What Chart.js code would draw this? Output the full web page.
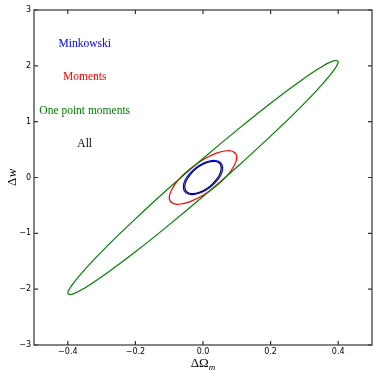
<!DOCTYPE html>
<html>
<head>
<meta charset="utf-8">
<script src="https://cdn.jsdelivr.net/npm/chart.js@4.4.1/dist/chart.umd.min.js"></script>
<style>
  html, body { margin: 0; padding: 0; background: #fff; }
  #wrap { width: 373px; height: 372px; }
</style>
</head>
<body>
<div id="wrap"><canvas id="c" width="373" height="372"></canvas></div>
<script>
// Axis ticks
const xTicks = [-0.4, -0.2, 0.0, 0.2, 0.4];
const yTicks = [-3, -2, -1, 0, 1, 2, 3];

// Confidence contours (Delta Omega_m, Delta w), traced around each ellipse
const onePointX = [0.400, 0.386, 0.346, 0.283, 0.200, 0.104, 0.000, -0.104, -0.200, -0.283, -0.346, -0.386,
                   -0.400, -0.386, -0.346, -0.283, -0.200, -0.104, 0.000, 0.104, 0.200, 0.283, 0.346, 0.386];
const onePointY = [2.072, 2.090, 1.965, 1.706, 1.331, 0.866, 0.341, -0.207, -0.741, -1.224, -1.624, -1.913,
                   -2.072, -2.090, -1.965, -1.706, -1.331, -0.866, -0.341, 0.207, 0.741, 1.224, 1.624, 1.913];

const momentsX = [0.100, 0.092, 0.071, 0.038, 0.000, -0.038, -0.071, -0.092,
                  -0.100, -0.092, -0.071, -0.038, 0.000, 0.038, 0.071, 0.092];
const momentsY = [0.360, 0.454, 0.479, 0.431, 0.318, 0.156, -0.030, -0.211,
                  -0.360, -0.454, -0.479, -0.431, -0.318, -0.156, 0.030, 0.211];

const minkowskiX = [0.058, 0.054, 0.041, 0.022, 0.000, -0.022, -0.041, -0.054,
                    -0.058, -0.054, -0.041, -0.022, 0.000, 0.022, 0.041, 0.054];
const minkowskiY = [0.168, 0.253, 0.299, 0.300, 0.255, 0.171, 0.061, -0.058,
                    -0.168, -0.253, -0.299, -0.300, -0.255, -0.171, -0.061, 0.058];

const allX = [0.054, 0.050, 0.038, 0.021, 0.000, -0.021, -0.038, -0.050,
              -0.054, -0.050, -0.038, -0.021, 0.000, 0.021, 0.038, 0.050];
const allY = [0.168, 0.246, 0.286, 0.283, 0.236, 0.154, 0.048, -0.065,
              -0.168, -0.246, -0.286, -0.283, -0.236, -0.154, -0.048, 0.065];

// In-plot labels
const seriesNames = ['Minkowski', 'Moments', 'One point moments', 'All'];
const seriesColors = ['#0000ff', '#ff0000', '#008000', '#000000'];
const nameX = -0.35;
const nameY = [2.4, 1.8, 1.2, 0.6];

function pts(xs, ys) { return xs.map((x, i) => ({ x: x, y: ys[i] })); }
function fmt(v, d) { return (d ? v.toFixed(d) : String(v)).replace('-', '\u2212'); }

const contour = (data, color) => ({
  data: data, borderColor: color, borderWidth: 1.2, showLine: true,
  pointRadius: 0, tension: 0.4, fill: false
});

// Close each contour into a smooth loop
const closeLoops = {
  id: 'closeLoops',
  afterDatasetsUpdate(chart) {
    chart.data.datasets.forEach((ds, i) => {
      const line = chart.getDatasetMeta(i).dataset;
      if (!line) return;
      line._loop = true;
      line._fullLoop = true;
      line._pointsUpdated = false;
      delete line._segments;
      delete line._path;
    });
  }
};

// Frame, inward ticks, text labels and axis titles
const decor = {
  id: 'decor',
  afterDraw(chart) {
    const { ctx, chartArea: a, scales: { x, y } } = chart;
    ctx.save();
    ctx.strokeStyle = '#333';
    ctx.lineWidth = 1.2;
    ctx.strokeRect(a.left, a.top, a.right - a.left, a.bottom - a.top);
    ctx.beginPath();
    const tl = 4;
    xTicks.forEach(v => {
      const px = x.getPixelForValue(v);
      ctx.moveTo(px, a.bottom); ctx.lineTo(px, a.bottom - tl);
      ctx.moveTo(px, a.top); ctx.lineTo(px, a.top + tl);
    });
    yTicks.forEach(v => {
      const py = y.getPixelForValue(v);
      ctx.moveTo(a.left, py); ctx.lineTo(a.left + tl, py);
      ctx.moveTo(a.right, py); ctx.lineTo(a.right - tl, py);
    });
    ctx.stroke();

    ctx.font = '11.5px "Liberation Serif", serif';
    ctx.textAlign = 'center';
    ctx.textBaseline = 'middle';
    seriesNames.forEach((n, i) => {
      ctx.fillStyle = seriesColors[i];
      ctx.fillText(n, x.getPixelForValue(nameX), y.getPixelForValue(nameY[i]));
    });

    // x title: ΔΩ with subscript m
    ctx.fillStyle = '#000';
    ctx.textBaseline = 'alphabetic';
    ctx.textAlign = 'left';
    const main = '\u0394\u03a9';
    ctx.font = '13px "Liberation Serif", serif';
    const w1 = ctx.measureText(main).width;
    ctx.font = 'italic 9px "Liberation Serif", serif';
    const w2 = ctx.measureText('m').width;
    const cx = (a.left + a.right) / 2;
    const x0 = cx - (w1 + w2) / 2;
    ctx.font = '13px "Liberation Serif", serif';
    ctx.fillText(main, x0, 367);
    ctx.font = 'italic 9px "Liberation Serif", serif';
    ctx.fillText('m', x0 + w1, 370);

    // y title: Δw
    ctx.save();
    ctx.translate(15.5, (a.top + a.bottom) / 2);
    ctx.rotate(-Math.PI / 2);
    ctx.font = '13px "Liberation Serif", serif';
    const d1 = ctx.measureText('\u0394').width;
    ctx.font = 'italic 13px "Liberation Serif", serif';
    const d2 = ctx.measureText('w').width;
    const s0 = -(d1 + d2) / 2;
    ctx.font = '13px "Liberation Serif", serif';
    ctx.fillText('\u0394', s0, 0);
    ctx.font = 'italic 13px "Liberation Serif", serif';
    ctx.fillText('w', s0 + d1 + 0.5, 0);
    ctx.restore();
    ctx.restore();
  }
};

new Chart(document.getElementById('c'), {
  type: 'scatter',
  data: {
    datasets: [
      contour(pts(onePointX, onePointY), '#008000'),
      contour(pts(momentsX, momentsY), '#ff0000'),
      contour(pts(minkowskiX, minkowskiY), '#0000ff'),
      contour(pts(allX, allY), '#000000')
    ]
  },
  options: {
    responsive: false,
    animation: false,
    layout: { padding: { top: 10, right: 1, left: 0, bottom: 0 } },
    plugins: { legend: { display: false }, tooltip: { enabled: false } },
    scales: {
      x: {
        type: 'linear', min: -0.5, max: 0.5,
        afterBuildTicks: s => { s.ticks = xTicks.map(v => ({ value: v })); },
        afterFit: s => { s.height = 27; },
        grid: { display: false, drawTicks: false },
        border: { display: false },
        ticks: {
          padding: 2, color: '#000', maxRotation: 0,
          font: { family: 'DejaVu Sans', size: 8 },
          callback: v => fmt(v, 1)
        }
      },
      y: {
        type: 'linear', min: -3, max: 3,
        afterBuildTicks: s => { s.ticks = yTicks.map(v => ({ value: v })); },
        afterFit: s => { s.width = 34; },
        grid: { display: false, drawTicks: false },
        border: { display: false },
        ticks: {
          padding: 3, color: '#000',
          font: { family: 'DejaVu Sans', size: 8 },
          callback: v => fmt(v, 0)
        }
      }
    }
  },
  plugins: [closeLoops, decor]
});
</script>
</body>
</html>
